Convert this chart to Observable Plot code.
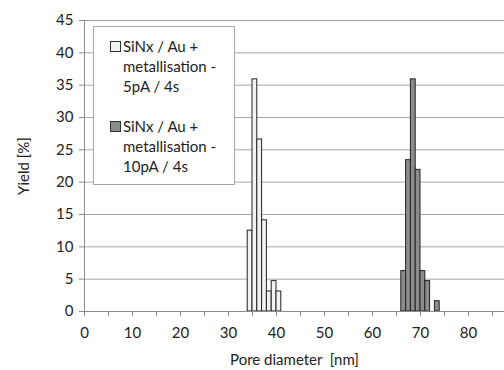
<!DOCTYPE html>
<html>
<head>
<meta charset="utf-8">
<script src="https://cdn.jsdelivr.net/npm/d3@7"></script>
<script src="https://cdn.jsdelivr.net/npm/@observablehq/plot@0.6"></script>
<style>
  html, body { margin: 0; padding: 0; background: #fff; }
  #wrap { position: relative; width: 504px; height: 370px; font-family: Lato, "Open Sans", sans-serif; }
  #legend { position: absolute; left: 93px; top: 26px; width: 140px; height: 157px; border: 1px solid #a6a6a6; background: #fff; box-sizing: content-box; font-size: 15px; color: #222; }
  .item { position: absolute; left: 16px; line-height: 20px; }
  .sw { position: absolute; left: 0; top: 5px; width: 9px; height: 9px; border: 1px solid #333; }
  .txt { margin-left: 13px; white-space: nowrap; }
</style>
</head>
<body>
<div id="wrap"></div>
<script>
const bins1 = [34, 35, 36, 37, 38, 39, 40];
const yield1 = [12.5, 35.9, 26.6, 14.1, 3.1, 4.7, 3.1];
const bins2 = [66, 67, 68, 69, 70, 71, 73];
const yield2 = [6.25, 23.4, 35.9, 21.9, 6.25, 4.7, 1.6];
const seriesNames = ["SiNx / Au + metallisation - 5pA / 4s", "SiNx / Au + metallisation - 10pA / 4s"];
const legendLines = [["SiNx / Au +", "metallisation -", "5pA / 4s"], ["SiNx / Au +", "metallisation -", "10pA / 4s"]];
const fills = ["#f2f2f2", "#8c8c8c"];
const xTicks = d3.range(0, 90, 5);
const yTicks = d3.range(0, 50, 5);

const data = [
  ...bins1.map((b, i) => ({x: b, v: yield1[i], s: seriesNames[0]})),
  ...bins2.map((b, i) => ({x: b, v: yield2[i], s: seriesNames[1]}))
];

const chart = Plot.plot({
  width: 504,
  height: 370,
  marginLeft: 84,
  marginRight: 0,
  marginTop: 20,
  marginBottom: 59,
  style: {fontFamily: "Lato, 'Open Sans', sans-serif", fontSize: "15px", color: "#222", background: "#fff"},
  x: {domain: [0, 87.5]},
  y: {domain: [0, 45]},
  color: {domain: seriesNames, range: fills},
  marks: [
    Plot.gridY(yTicks, {stroke: "#a6a6a6", strokeOpacity: 1}),
    Plot.rectY(data, {x1: "x", x2: d => d.x + 1, y: "v", fill: "s", stroke: "#222", strokeWidth: 1}),
    Plot.ruleX([0], {stroke: "#8c8c8c"}),
    Plot.ruleY([0], {stroke: "#8c8c8c"}),
    Plot.axisY(yTicks, {tickSize: 5, tickPadding: 6, stroke: "#8c8c8c", fontSize: 15, label: "Yield [%]", labelAnchor: "center", labelArrow: "none", labelOffset: 66, fill: "#222"}),
    Plot.axisX(xTicks, {tickSize: 5, tickPadding: 11, stroke: "#8c8c8c", fontSize: 15, tickFormat: d => d % 10 === 0 ? d : "", label: "Pore diameter\u00a0 [nm]", labelAnchor: "center", labelArrow: "none", labelOffset: 53, fill: "#222"})
  ]
});

const wrap = document.getElementById("wrap");
wrap.appendChild(chart);
const legend = document.createElement("div");
legend.id = "legend";
legendLines.forEach((lines, i) => {
  const item = document.createElement("div");
  item.className = "item";
  item.style.top = (i === 0 ? 9 : 89) + "px";
  const sw = document.createElement("div");
  sw.className = "sw";
  sw.style.background = fills[i];
  item.appendChild(sw);
  const t = document.createElement("div");
  t.className = "txt";
  t.innerHTML = lines.join("<br>");
  item.appendChild(t);
  legend.appendChild(item);
});
wrap.appendChild(legend);
</script>
</body>
</html>
